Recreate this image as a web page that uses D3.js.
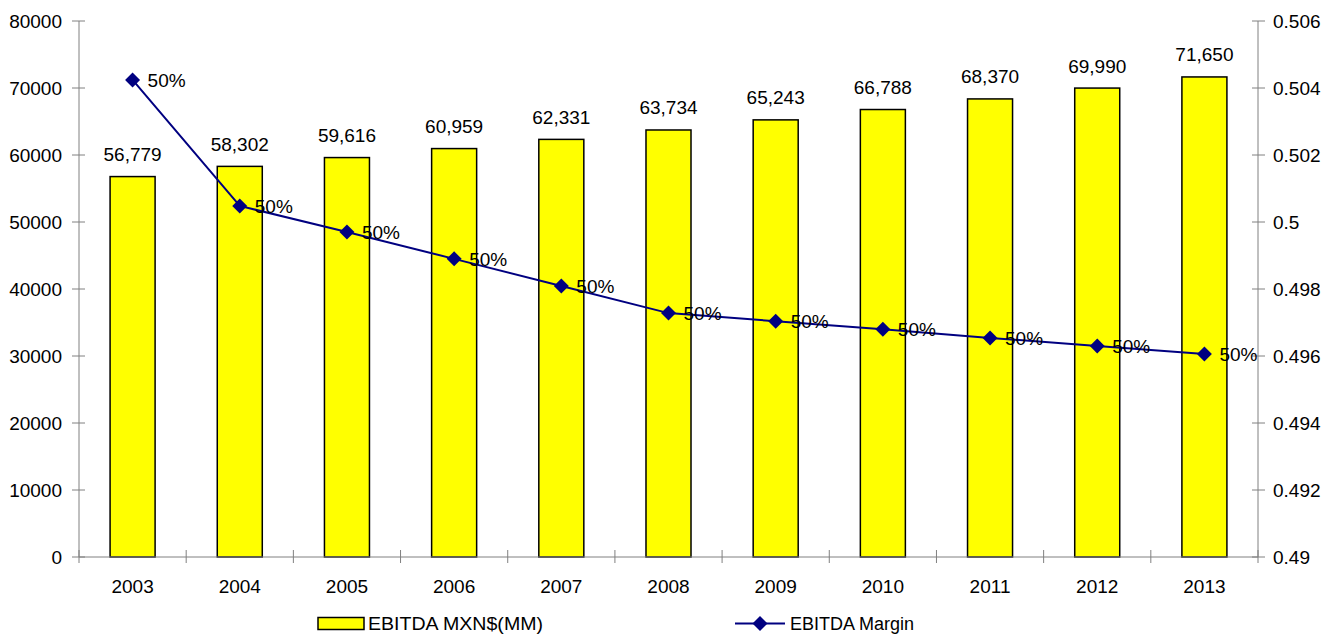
<!DOCTYPE html>
<html><head><meta charset="utf-8">
<script src="https://cdn.jsdelivr.net/npm/d3@7"></script>
<style>body{margin:0;background:#fff}svg{display:block;font-family:"Liberation Sans",Arial,sans-serif}</style>
</head><body><svg id="c" width="1326" height="635"></svg>
<script>
const years = ["2003","2004","2005","2006","2007","2008","2009","2010","2011","2012","2013"];
const ebitda = [56779,58302,59616,60959,62331,63734,65243,66788,68370,69990,71650];
const margin = [0.50424,0.50048,0.4997,0.4989,0.49809,0.49728,0.49704,0.4968,0.49654,0.4963,0.49606];
const leftTicks = [0,10000,20000,30000,40000,50000,60000,70000,80000];
const rightTicks = [0.49,0.492,0.494,0.496,0.498,0.5,0.502,0.504,0.506];
const seriesNames = ["EBITDA MXN$(MM)","EBITDA Margin"];

const svg = d3.select("#c");
const L = 79, R = 1258, T = 21, B = 557;
const x = d3.scaleBand().domain(years).range([L, R]).paddingInner(0).paddingOuter(0);
const yL = d3.scaleLinear().domain([0,80000]).range([B, T]);
const yR = d3.scaleLinear().domain([0.49,0.506]).range([B, T]);
const fs = 19;
const axisColor = "#808080";

// bars
const bw = x.bandwidth()*0.42;
svg.append("g").selectAll("rect").data(ebitda).join("rect")
  .attr("x",(d,i)=>x(years[i])+x.bandwidth()/2-bw/2)
  .attr("y",d=>yL(d)).attr("width",bw).attr("height",d=>B-yL(d))
  .attr("fill","#ffff00").attr("stroke","#000").attr("stroke-width",1.5);

// bar labels
const fmt = d3.format(",");
svg.append("g").selectAll("text").data(ebitda).join("text")
  .attr("x",(d,i)=>x(years[i])+x.bandwidth()/2).attr("y",d=>yL(d)-15.5)
  .attr("text-anchor","middle").attr("font-size",fs).attr("fill","#000").text(d=>fmt(d));

// left axis
const gl = svg.append("g");
gl.append("line").attr("x1",L).attr("x2",L).attr("y1",T).attr("y2",B).attr("stroke",axisColor);
gl.selectAll("line.t").data(leftTicks).join("line").attr("class","t")
  .attr("x1",L-7).attr("x2",L+6).attr("y1",d=>yL(d)).attr("y2",d=>yL(d)).attr("stroke",axisColor);
gl.selectAll("text").data(leftTicks).join("text")
  .attr("x",L-17).attr("y",d=>yL(d)).attr("dy","0.35em").attr("text-anchor","end")
  .attr("font-size",fs).text(d=>d);

// right axis
const gr = svg.append("g");
gr.append("line").attr("x1",R).attr("x2",R).attr("y1",T).attr("y2",B).attr("stroke",axisColor);
gr.selectAll("line.t").data(rightTicks).join("line").attr("class","t")
  .attr("x1",R-6).attr("x2",R+7).attr("y1",d=>yR(d)).attr("y2",d=>yR(d)).attr("stroke",axisColor);
gr.selectAll("text").data(rightTicks).join("text")
  .attr("x",R+15).attr("y",d=>yR(d)).attr("dy","0.35em").attr("text-anchor","start")
  .attr("font-size",fs).text(d=>String(+d.toFixed(3)));

// x axis
const gx = svg.append("g");
gx.append("line").attr("x1",L).attr("x2",R).attr("y1",B).attr("y2",B).attr("stroke",axisColor);
const bounds = years.map(y=>x(y)).concat([R]);
gx.selectAll("line.t").data(bounds).join("line").attr("class","t")
  .attr("x1",d=>d).attr("x2",d=>d).attr("y1",B-7).attr("y2",B+6).attr("stroke",axisColor);
gx.selectAll("text").data(years).join("text")
  .attr("x",d=>x(d)+x.bandwidth()/2).attr("y",B+29).attr("dy","0.35em").attr("text-anchor","middle")
  .attr("font-size",fs).text(d=>d);

// line
const lineColor = "#000080";
const line = d3.line().x((d,i)=>x(years[i])+x.bandwidth()/2).y(d=>yR(d));
svg.append("path").datum(margin).attr("d",line).attr("fill","none").attr("stroke",lineColor).attr("stroke-width",2);
svg.append("g").selectAll("rect").data(margin).join("rect")
  .attr("x",-5.3).attr("y",-5.3).attr("width",10.6).attr("height",10.6)
  .attr("transform",(d,i)=>`translate(${x(years[i])+x.bandwidth()/2},${yR(d)}) rotate(45)`)
  .attr("fill",lineColor);
svg.append("g").selectAll("text").data(margin).join("text")
  .attr("x",(d,i)=>x(years[i])+x.bandwidth()/2+15).attr("y",d=>yR(d)).attr("dy","0.35em")
  .attr("font-size",fs).text(d=>d3.format(".0%")(d));

// legend
const lfs = 18, ly = 623.5;
const lg = svg.append("g");
lg.append("rect").attr("x",318).attr("y",ly-6).attr("width",46).attr("height",12)
  .attr("fill","#ffff00").attr("stroke","#000").attr("stroke-width",1.5);
lg.append("text").attr("x",368).attr("y",ly).attr("dy","0.35em").attr("font-size",lfs)
  .attr("textLength",175).attr("lengthAdjust","spacingAndGlyphs").text(seriesNames[0]);
lg.append("line").attr("x1",735).attr("x2",785).attr("y1",ly).attr("y2",ly).attr("stroke",lineColor).attr("stroke-width",2);
lg.append("rect").attr("x",-5.3).attr("y",-5.3).attr("width",10.6).attr("height",10.6)
  .attr("transform",`translate(760,${ly}) rotate(45)`).attr("fill",lineColor);
lg.append("text").attr("x",790).attr("y",ly).attr("dy","0.35em").attr("font-size",lfs).text(seriesNames[1]);
</script></body></html>
